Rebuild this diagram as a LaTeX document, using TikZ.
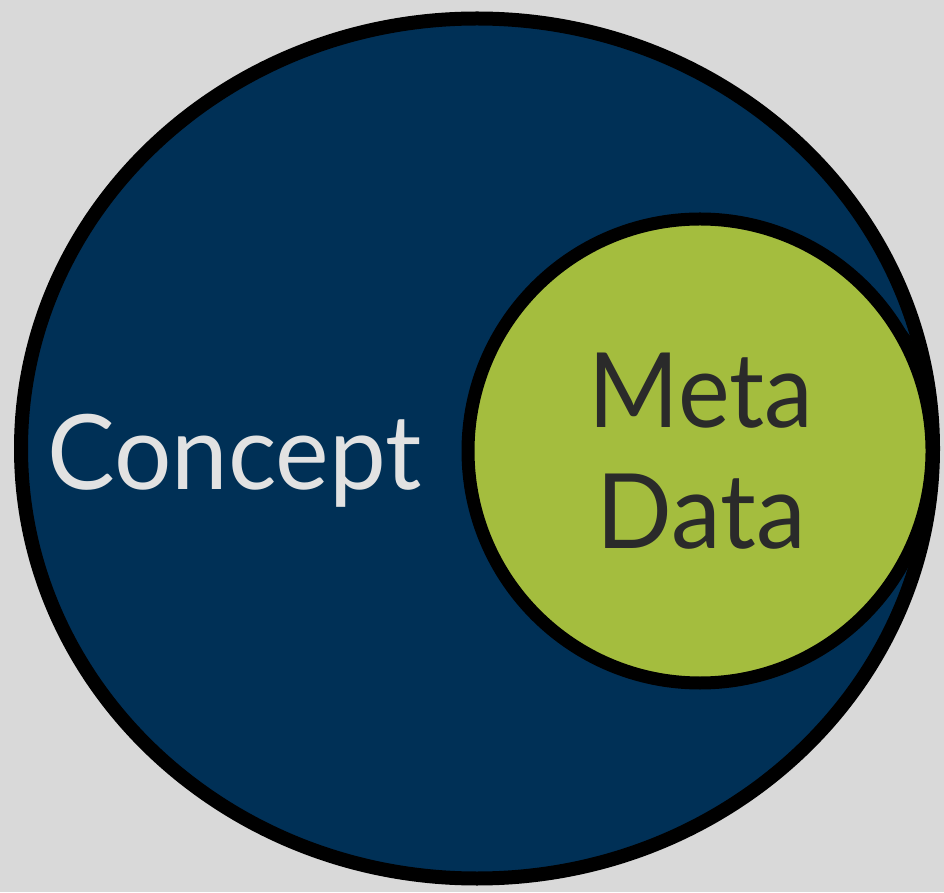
\documentclass[tikz,border=0pt]{standalone}
\usepackage{fontspec}
\setmainfont{Lato}
\definecolor{bggray}{HTML}{D9D9D9}
\definecolor{navy}{HTML}{003056}
\definecolor{lime}{HTML}{A4BD3E}
\definecolor{lighttext}{HTML}{E2E2E2}
\definecolor{darktext}{HTML}{2A2A2A}
\tikzset{
  ring/.style={draw=black, line width=#1},
  bigfont/.style={font=\fontsize{104}{120}\selectfont, inner sep=0pt},
}
\begin{document}
\begin{tikzpicture}[x=1pt,y=1pt]
  \fill[bggray] (0,0) rectangle (944,892);
  \useasboundingbox (0,0) rectangle (944,892);
  % concept ellipse
  \filldraw[fill=navy, ring=14pt] (477,443.5) ellipse [x radius=456, y radius=430];
  % meta data circle
  \filldraw[fill=lime, ring=13pt] (700,441) circle [radius=232];
  % small brush mark
  \fill[black] (868,600) .. controls (888,582) and (904,566) .. (918,545)
     .. controls (902,562) and (886,578) .. (866,596) -- cycle;
  \node[bigfont, text=lighttext, anchor=base west, xscale=0.975] (concept) at (47,402) {Concept};
  \node[bigfont, text=darktext, anchor=base, xscale=0.94] (meta) at (701,464) {Meta};
  \node[bigfont, text=darktext, anchor=base, xscale=0.96] (data) at (701,344) {Data};
\end{tikzpicture}
\end{document}
